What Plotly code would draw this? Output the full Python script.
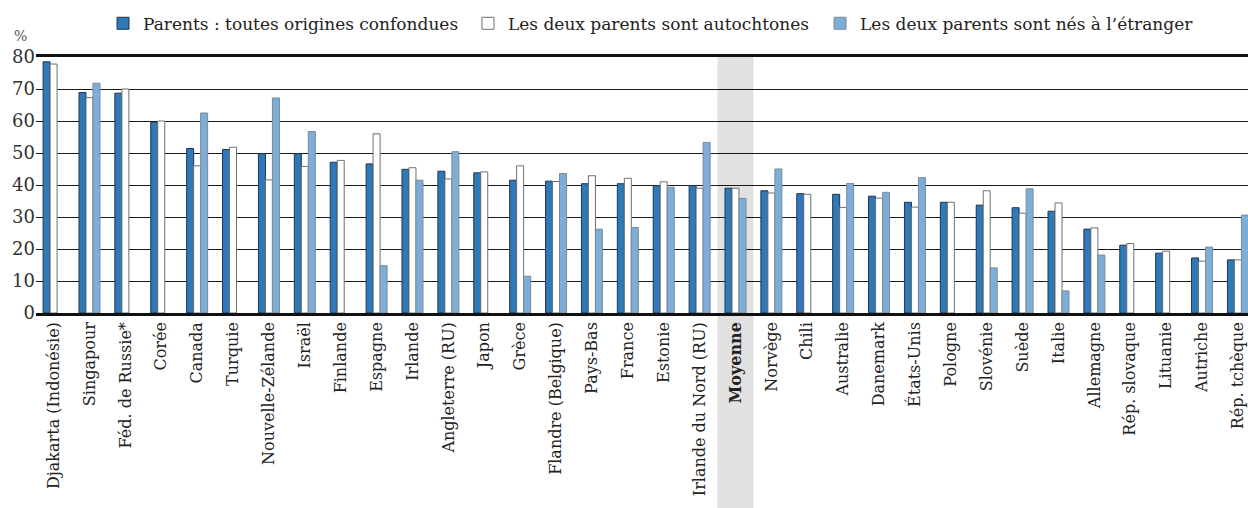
import plotly.graph_objects as go

# categories, in the order they appear on the x axis
countries = [
  'Djakarta (Indonésie)', 'Singapour', 'Féd. de Russie*', 'Corée', 'Canada',
  'Turquie', 'Nouvelle-Zélande', 'Israël', 'Finlande', 'Espagne', 'Irlande',
  'Angleterre (RU)', 'Japon', 'Grèce', 'Flandre (Belgique)', 'Pays-Bas',
  'France', 'Estonie', 'Irlande du Nord (RU)', 'Moyenne', 'Norvège', 'Chili',
  'Australie', 'Danemark', 'États-Unis', 'Pologne', 'Slovénie', 'Suède',
  'Italie', 'Allemagne', 'Rép. slovaque', 'Lituanie', 'Autriche',
  'Rép. tchèque',
]

# series values (%)
all_parents = [
  78.5, 68.9, 68.7, 59.6, 51.4, 51.1, 49.8, 49.8, 47.1, 46.6, 44.9,
  44.3, 43.8, 41.5, 41.2, 40.4, 40.4, 39.8, 39.8, 39.0, 38.2, 37.3,
  37.1, 36.5, 34.6, 34.6, 33.7, 32.9, 31.8, 26.2, 21.2, 18.7, 17.2, 16.6,
]
native_parents = [
  77.8, 67.3, 70.0, 60.0, 46.0, 51.8, 41.6, 45.8, 47.7, 56.0, 45.4,
  41.9, 44.1, 46.0, 41.1, 42.9, 42.1, 41.0, 39.0, 39.0, 37.5, 37.1,
  33.0, 35.9, 33.1, 34.6, 38.2, 31.2, 34.4, 26.6, 21.7, 19.3, 16.2, 16.6,
]
foreign_parents = [
  None, 71.8, None, None, 62.5, None, 67.2, 56.7, None, 14.8, 41.5,
  50.4, None, 11.5, 43.6, 26.2, 26.7, 39.3, 53.3, 35.8, 45.0, None,
  40.5, 37.7, 42.3, None, 14.1, 38.8, 6.9, 18.1, None, None, 20.6, 30.6,
]

series_names = [
  'Parents : toutes origines confondues',
  'Les deux parents sont autochtones',
  'Les deux parents sont nés à l’étranger',
]

FONT = 'DejaVu Serif'
x_idx = list(range(len(countries)))
tick_text = [f'<b>{c}</b>' if c == 'Moyenne' else c for c in countries]

fig = go.Figure()
styles = [
  (all_parents, '#2f79b9', '#1d3550', 'legend', 0.0553),
  (native_parents, '#ffffff', '#6f6f6f', 'legend2', 0.3564),
  (foreign_parents, '#7eaed7', '#7a8a99', 'legend3', 0.6469),
]
legend_cfg = {}
for (vals, fill, edge, leg, lx), name in zip(styles, series_names):
  fig.add_trace(go.Bar(
    x=x_idx, y=vals, name=name, legend=leg, showlegend=True,
    marker=dict(color=fill, line=dict(color=edge, width=1)),
  ))
  # one legend per series so each entry sits where the original puts it
  legend_cfg[leg] = dict(
    orientation='h', x=lx, y=1.13, xanchor='left', yanchor='middle',
    font=dict(family=FONT, size=17, color='#222'),
    itemwidth=30, bgcolor='rgba(0,0,0,0)',
  )

# grey band behind the average
avg_i = countries.index('Moyenne')
fig.add_shape(
  type='rect', xref='x', yref='paper',
  x0=avg_i - 0.5, x1=avg_i + 0.5, y0=-0.8, y1=1,
  fillcolor='#e1e1e1', line_width=0, layer='below',
)

fig.add_annotation(
  text='%', xref='paper', yref='paper', x=-0.02, y=1.12,
  showarrow=False, font=dict(family=FONT, size=14, color='#555'),
)

fig.update_layout(
  width=1248, height=508,
  margin=dict(l=36, r=0, t=57, b=195, autoexpand=False),
  barmode='group', bargap=0.415, bargroupgap=0,
  plot_bgcolor='white', paper_bgcolor='white',
  font=dict(family=FONT, size=16, color='#222'),
  showlegend=True,
  **legend_cfg,
)
fig.update_xaxes(
  tickmode='array', tickvals=x_idx, ticktext=tick_text, tickangle=-90,
  range=[-0.49, 33.28], showgrid=False, automargin=False,
  showline=True, linecolor='#111', linewidth=2.5, mirror=True,
  tickfont=dict(family=FONT, size=16, color='#222'),
)
fig.update_yaxes(
  range=[0, 80], dtick=10, showgrid=True, gridcolor='#1a1a1a', gridwidth=1,
  zeroline=False, automargin=False,
  tickfont=dict(family=FONT, size=18, color='#333'),
)

# drop the default page margin so the figure fills the window exactly
fig.write_html(
  'out.html',
  config={'displayModeBar': False},
  post_script="document.body.style.margin='0';document.body.style.overflow='hidden';",
)
